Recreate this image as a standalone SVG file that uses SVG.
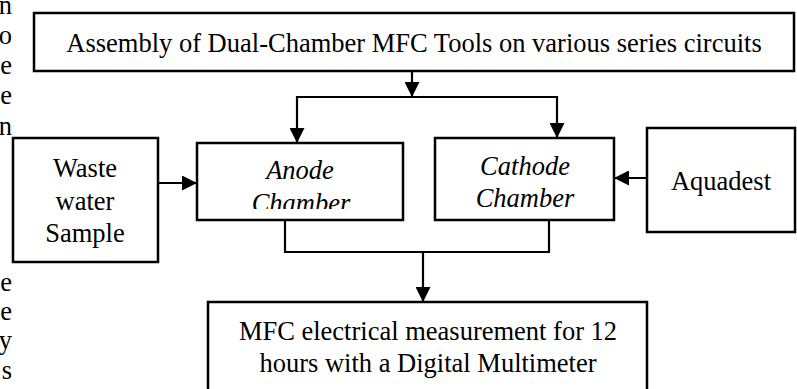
<svg xmlns="http://www.w3.org/2000/svg" width="797" height="389" viewBox="0 0 797 389">
<style>
  .box { fill: #fff; stroke: #000; stroke-width: 2.5; }
  .t { font-family: "Liberation Serif", "Times New Roman", serif; font-size: 26.5px; fill: #000; text-anchor: middle; }
  .i { font-style: italic; }
  .frag { font-family: "Liberation Serif", "Times New Roman", serif; font-size: 26.5px; fill: #000; text-anchor: end; }
  .conn { fill: none; stroke: #000; stroke-width: 2.2; }
</style>
<defs>
  <marker id="arr" markerUnits="userSpaceOnUse" markerWidth="15" markerHeight="15" refX="15" refY="7.5" orient="auto">
    <path d="M0,0 L15,7.5 L0,15 z" fill="#000"/>
  </marker>
  <clipPath id="anodeClip"><rect x="197" y="143" width="206" height="66"/></clipPath>
</defs>
<rect width="797" height="389" fill="#fff"/>

<g id="page-fragments">
  <text class="frag" x="12" y="14">n</text>
  <text class="frag" x="12" y="44">o</text>
  <text class="frag" x="12" y="74">e</text>
  <text class="frag" x="12" y="104">e</text>
  <text class="frag" x="12" y="135">n</text>
  <text class="frag" x="12" y="291">e</text>
  <text class="frag" x="12" y="320">e</text>
  <text class="frag" x="12" y="349">y</text>
  <text class="frag" x="12" y="379">s</text>
</g>

<g id="connectors">
  <line class="conn" x1="412" y1="71" x2="412" y2="97" marker-end="url(#arr)"/>
  <polyline class="conn" points="297,97 557,97"/>
  <line class="conn" x1="297" y1="96" x2="297" y2="143" marker-end="url(#arr)"/>
  <line class="conn" x1="557" y1="96" x2="557" y2="138" marker-end="url(#arr)"/>
  <line class="conn" x1="158" y1="183" x2="197" y2="183" marker-end="url(#arr)"/>
  <line class="conn" x1="647" y1="178" x2="614" y2="178" marker-end="url(#arr)"/>
  <polyline class="conn" points="285,220 285,252 549,252 549,220"/>
  <line class="conn" x1="423" y1="252" x2="423" y2="302" marker-end="url(#arr)"/>
</g>

<g id="assembly">
  <rect class="box" x="34" y="13" width="760" height="58"/>
  <text class="t" x="414" y="52">Assembly of Dual-Chamber MFC Tools on various series circuits</text>
</g>

<g id="waste">
  <rect class="box" x="13" y="138" width="145" height="124"/>
  <text class="t" x="85" y="177">Waste</text>
  <text class="t" x="85" y="210">water</text>
  <text class="t" x="85" y="242">Sample</text>
</g>

<g id="anode">
  <rect class="box" x="197" y="143" width="206" height="77"/>
  <g clip-path="url(#anodeClip)">
    <text class="t i" x="300" y="179">Anode</text>
    <text class="t i" x="301" y="212">Chamber</text>
  </g>
</g>

<g id="cathode">
  <rect class="box" x="435" y="138" width="179" height="82"/>
  <text class="t i" x="525" y="175">Cathode</text>
  <text class="t i" x="525" y="207">Chamber</text>
</g>

<g id="aquadest">
  <rect class="box" x="647" y="128" width="148" height="104"/>
  <text class="t" x="721" y="190">Aquadest</text>
</g>

<g id="measurement">
  <rect class="box" x="208" y="302" width="439" height="100"/>
  <text class="t" x="428" y="340">MFC electrical measurement for 12</text>
  <text class="t" x="428" y="372">hours with a Digital Multimeter</text>
</g>
</svg>
